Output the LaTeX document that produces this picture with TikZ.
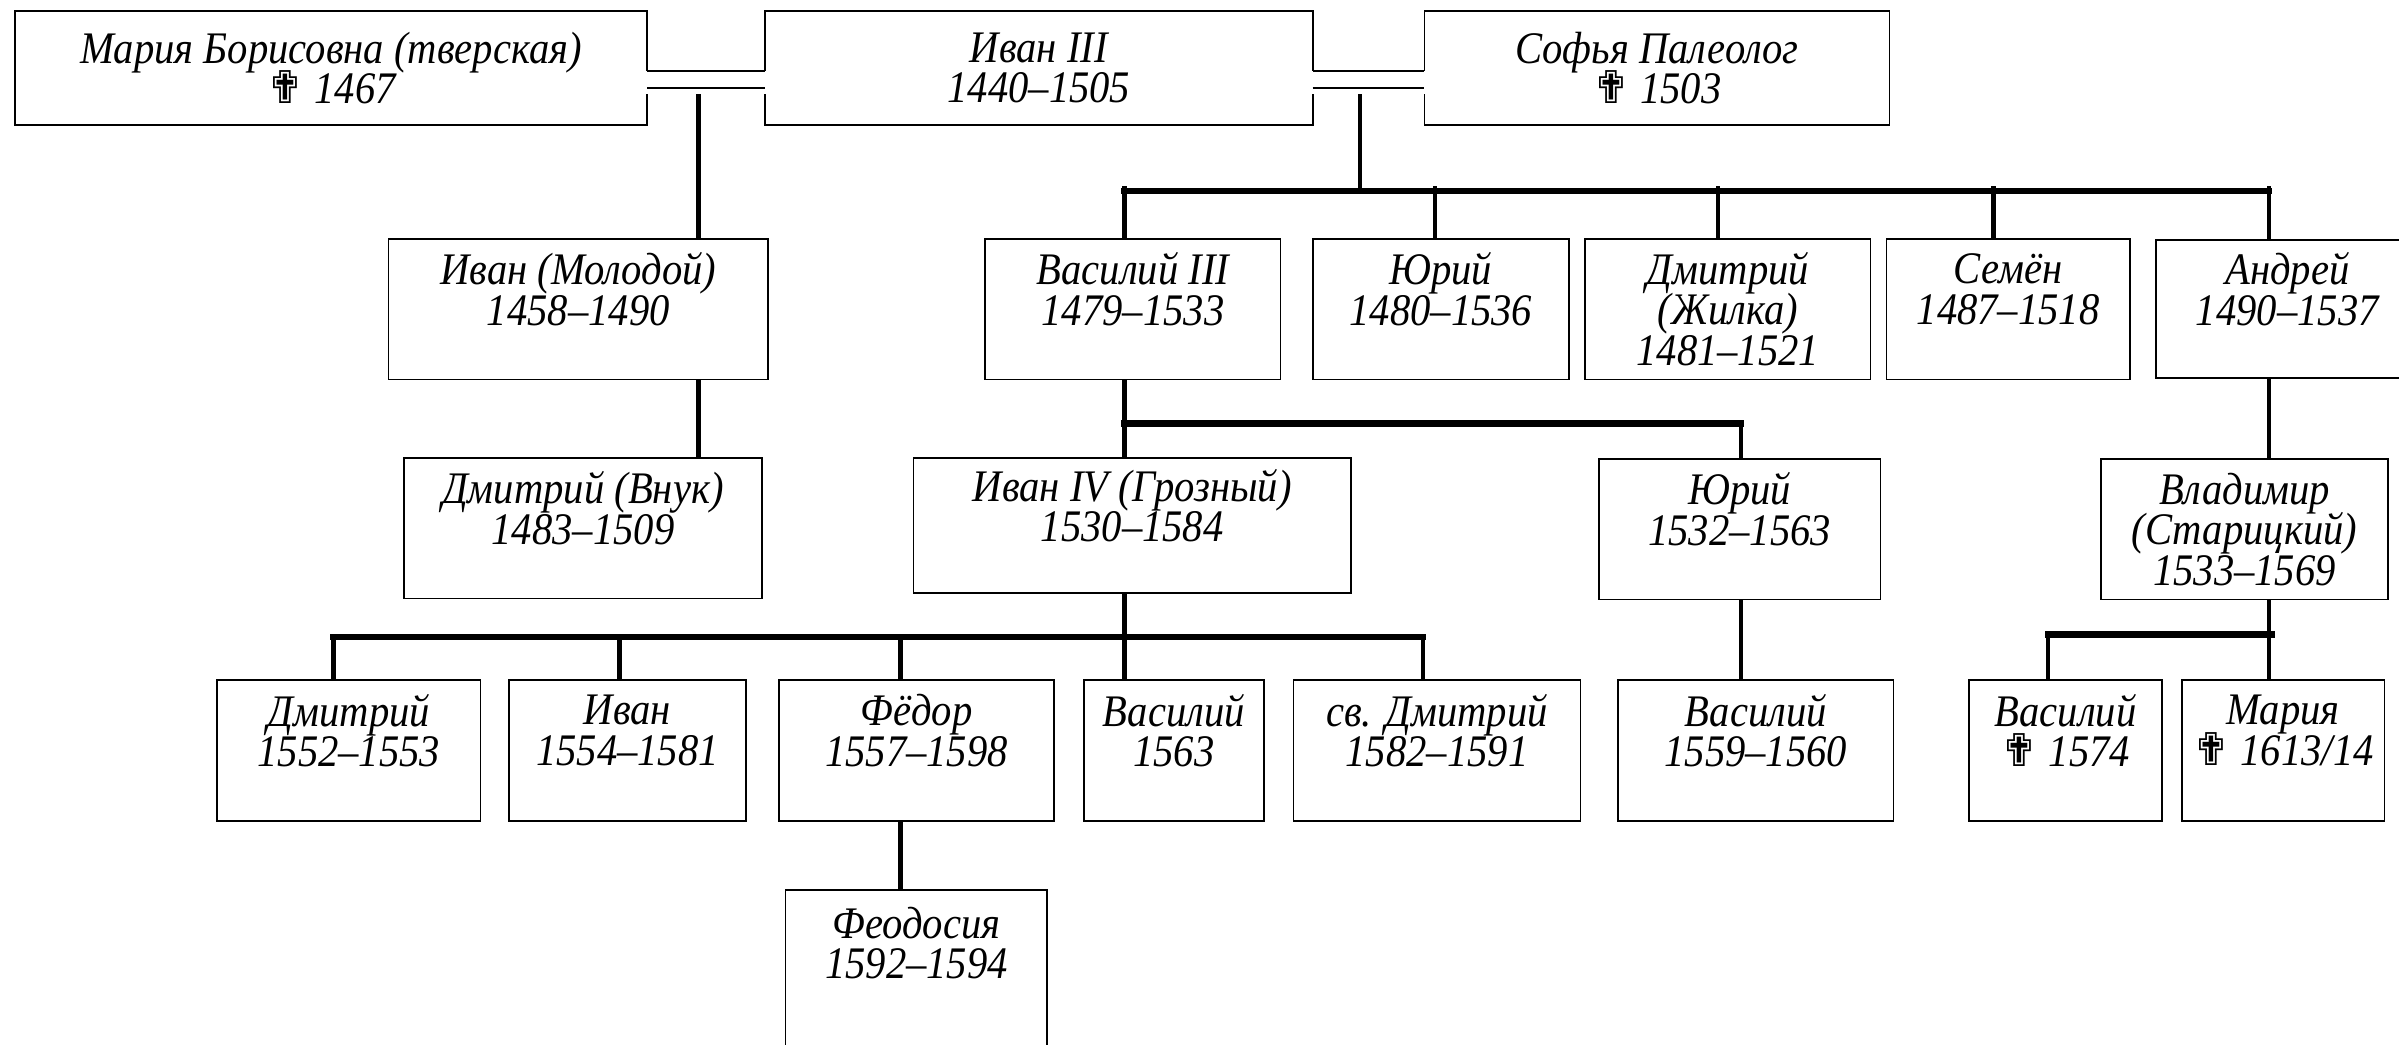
\documentclass[tikz,border=0pt]{standalone}
\usepackage{fontspec}
\setmainfont{Liberation Serif}[FakeStretch=0.9]
\newfontfamily\crossfont{DejaVu Sans}[Scale=1.0]
\newcommand{\dcross}{{\crossfont ✟}}
\newcommand{\tightlines}{\lineskiplimit=-50pt\relax}
\newcommand{\spare}{\\[-8pt]\strut}
\usetikzlibrary{positioning}

\begin{document}
\begin{tikzpicture}[x=1pt, y=-1pt,
  person/.style={draw, line width=1.1pt, outer sep=0pt, inner sep=2pt, align=center,
    minimum height=92pt, font=\fontsize{29.5}{26.5}\selectfont\itshape\tightlines},
  kin/.style={line width=2.9pt},
  bus/.style={line width=4pt, line cap=rect},
  wed/.style={line width=1.4pt}]

\useasboundingbox (0,0) rectangle (1568,683);
\clip (0,0) rectangle (1568,683);

% Ivan III and his two wives
\node[person, minimum width=413pt, minimum height=74.7pt] (mariya) at (216.5,44.5) {Мария Борисовна (тверская)\\\dcross\ 1467};
\node[person, minimum width=358pt, minimum height=74.7pt, right=77pt of mariya] (ivan3) {Иван III\\1440–1505};
\node[person, minimum width=304pt, minimum height=74.7pt, right=73pt of ivan3] (sofia) {Софья Палеолог\\\dcross\ 1503};

% sons of Ivan III
\node[person, minimum width=248pt] (ivmol) at (378,202) {Иван (Молодой)\\1458–1490\spare};
\node[person, minimum width=193pt] (vas3) at (740.5,202) {Василий III\\1479–1533\spare};
\node[person, minimum width=167.5pt, right=21pt of vas3] (yuri1) {Юрий\\1480–1536\spare};
\node[person, minimum width=186.6pt, right=10.5pt of yuri1] (dmzh) {Дмитрий\\(Жилка)\\1481–1521};
\node[person, minimum width=159pt, right=10.4pt of dmzh] (semen) {Семён\\1487–1518\spare};
\node[person, minimum width=172pt, minimum height=90pt, right=17pt of semen] (andrey) {Андрей\\1490–1537\spare};

% grandsons
\node[person, minimum width=234pt] (dmvn) at (381,345.2) {Дмитрий (Внук)\\1483–1509\spare};
\node[person, minimum width=286pt, minimum height=88.3pt] (ivan4) at (740,343.5) {Иван IV (Грозный)\\1530–1584\spare};
\node[person, minimum width=184pt] (yuri2) at (1137,345.9) {Юрий\\1532–1563\spare};
\node[person, minimum width=188pt, right=144pt of yuri2] (vlad) {Владимир\\(Старицкий)\\1533–1569};

% great-grandchildren
\node[person, minimum width=172pt] (dm3) at (228,490.5) {Дмитрий\\1552–1553\spare};
\node[person, minimum width=154.7pt, right=18.8pt of dm3] (iv3) {Иван\\1554–1581\spare};
\node[person, minimum width=180pt, right=21.5pt of iv3] (fed) {Фёдор\\1557–1598\spare};
\node[person, minimum width=117.6pt, right=19.4pt of fed] (vas4) {Василий\\1563\spare};
\node[person, minimum width=187.6pt, right=19.4pt of vas4] (svdm) {св. Дмитрий\\1582–1591\spare};
\node[person, minimum width=179.8pt, right=24.7pt of svdm] (vas5) {Василий\\1559–1560\spare};
\node[person, minimum width=126pt, right=49.5pt of vas5] (vas6) {Василий\\\dcross\ 1574\spare};
\node[person, minimum width=132.5pt, right=13pt of vas6] (mar) {Мария\\\dcross\ 1613/14\spare};

% last row
\node[person, minimum width=171pt, minimum height=149pt, below=45pt of fed] (feod) {Феодосия\\1592–1594\spare\\\strut\\\strut};

% marriage marks
\foreach \a/\b in {mariya/ivan3, ivan3/sofia} {
  \fill[white] ([shift={(-1.5,1.9)}]\a.east) rectangle ([shift={(1.5,17)}]\a.east);
  \fill[white] ([shift={(-1.5,1.9)}]\b.west) rectangle ([shift={(1.5,17)}]\b.west);
  \draw[wed] ([shift={(0,1.9)}]\a.east) -- ([shift={(0,1.9)}]\b.west);
  \draw[wed] ([shift={(0,12.8)}]\a.east) -- ([shift={(0,12.8)}]\b.west);
}

% line of Maria Borisovna
\coordinate (w1) at (456.5,61.5);
\draw[kin] (w1) -- (w1 |- ivmol.north);
\draw[kin] (w1 |- ivmol.south) -- (w1 |- dmvn.north);

% line of Sofia Palaiologina
\coordinate (w2) at (889,61.5);
\coordinate (b1) at (735,124.7);
\coordinate (b1e) at (1483,124.7);
\draw[kin] (w2) -- (w2 |- b1);
\draw[bus] (b1) -- (b1e);
\foreach \x/\n in {735/vas3, 938/yuri1, 1123/dmzh, 1303/semen, 1483/andrey} {
  \coordinate (t) at (\x,124.7);
  \draw[kin, shorten <=-3pt] (t) -- (t |- \n.north);
}

% children of Vasily III
\coordinate (b2) at (735,276.8);
\coordinate (b2e) at (1138,276.8);
\draw[kin] (b2 |- vas3.south) -- (b2 |- ivan4.north);
\draw[bus] (b2) -- (b2e);
\draw[kin] (b2e) -- (b2e |- yuri2.north);
\draw[kin] (b2e |- yuri2.south) -- (b2e |- vas5.north);

% children of Ivan IV
\coordinate (b3) at (218,416.4);
\coordinate (b3e) at (930,416.4);
\draw[kin] (b2 |- ivan4.south) -- (b2 |- vas4.north);
\draw[bus] (b3) -- (b3e);
\foreach \x/\n in {218/dm3, 405/iv3, 588.6/fed, 930/svdm} {
  \coordinate (t) at (\x,416.4);
  \draw[kin] (t) -- (t |- \n.north);
}
\coordinate (f1) at (588.6,0);
\draw[kin] (f1 |- fed.south) -- (f1 |- feod.north);

% line of Andrey
\coordinate (a1) at (1483,0);
\coordinate (b4) at (1338.5,414.7);
\coordinate (b4e) at (1485,414.7);
\draw[kin] (a1 |- andrey.south) -- (a1 |- vlad.north);
\draw[kin] (a1 |- vlad.south) -- (a1 |- mar.north);
\draw[bus] (b4) -- (b4e);
\draw[kin] (b4) -- (b4 |- vas6.north);

\end{tikzpicture}
\end{document}
